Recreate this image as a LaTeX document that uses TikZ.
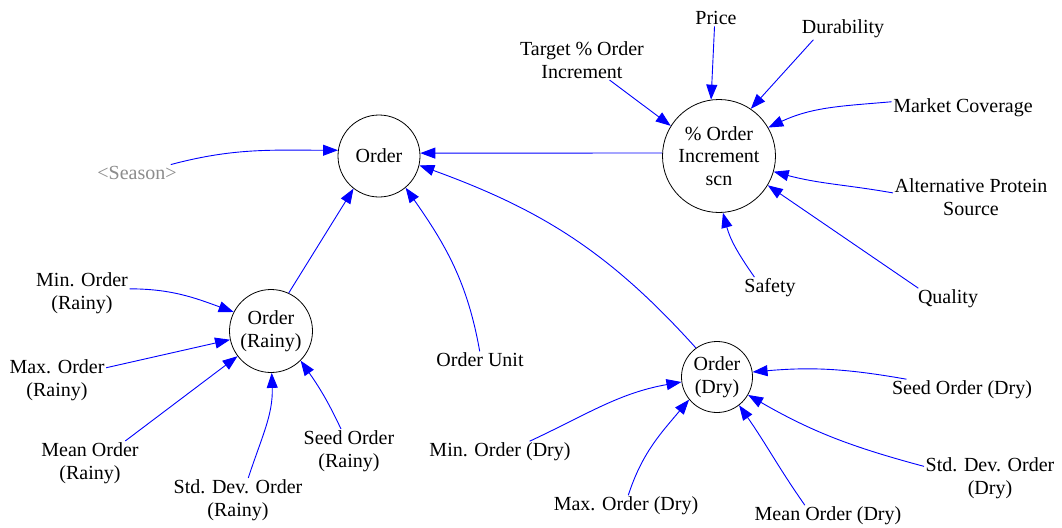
\documentclass[tikz,border=0pt]{standalone}
\usepackage{fontspec}
\setmainfont{Liberation Serif}
\usetikzlibrary{arrows.meta}
\definecolor{linkblue}{RGB}{0,0,255}
\definecolor{shadowvar}{RGB}{140,140,140}

\begin{document}
\begin{tikzpicture}[x=1pt,y=-1pt,
  txt/.style={font=\fontsize{20}{22.5}\selectfont, align=center, inner sep=1.5pt},
  var/.style={txt, circle, draw=black, line width=0.8pt, inner sep=0pt},
  link/.style={draw=linkblue, line width=0.9pt, -{Triangle[length=15pt,width=11pt]}}]
\useasboundingbox (0,0) rectangle (1062,527);

% auxiliary variables (circles)
\node[var, minimum size=82pt]  (order) at (379,156) {Order};
\node[var, minimum size=113pt] (ois)   at (719,156) {\% Order\\Increment\\scn};
\node[var, minimum size=83pt]  (rainy) at (271,331) {Order\\(Rainy)};
\node[var, minimum size=71pt]  (dry)   at (717,377) {Order\\(Dry)};

% constants and inputs
\node[txt, text=shadowvar] (season) at (137,173) {<Season>};
\node[txt] (target)  at (582,60)  {Target \% Order\\Increment};
\node[txt] (price)   at (716,18)  {Price};
\node[txt] (dur)     at (843,29)  {Durability};
\node[txt] (market)  at (963,108) {Market Coverage};
\node[txt] (alt)     at (971,197) {Alternative Protein\\Source};
\node[txt] (safety)  at (770,288) {Safety};
\node[txt] (quality) at (948,299) {Quality};
\node[txt] (minr)    at (82,293)  {Min. Order\\(Rainy)};
\node[txt] (maxr)    at (57,380)  {Max. Order\\(Rainy)};
\node[txt] (meanr)   at (90,463)  {Mean Order\\(Rainy)};
\node[txt] (sdr)     at (238,500) {Std. Dev. Order\\(Rainy)};
\node[txt] (seedr)   at (349,451) {Seed Order\\(Rainy)};
\node[txt] (unit)    at (480,360) {Order Unit};
\node[txt] (mind)    at (500,452) {Min. Order (Dry)};
\node[txt] (maxd)    at (626,506) {Max. Order (Dry)};
\node[txt] (meand)   at (828,516) {Mean Order (Dry)};
\node[txt] (sdd)     at (990,478) {Std. Dev. Order\\(Dry)};
\node[txt] (seedd)   at (962,390) {Seed Order (Dry)};

% links into Order
\draw[link] (season.14) to[out=15,in=180] (order.172);
\draw[link] (ois.177) -- (order.4);
\draw[link] (rainy.65) -- (order.232);
\draw[link] (unit.92) to[out=100,in=-55] (order.-50);
\draw[link] (dry.126) to[out=132,in=-20] (order.-13);

% links into % Order Increment scn
\draw[link] (target.-36) -- (ois.148);
\draw[link] (price.-100) -- (ois.98);
\draw[link] (dur.200) -- (ois.56);
\draw[link] (market.175) to[out=185,in=25] (ois.30);
\draw[link] (alt.177) to[out=170,in=-15] (ois.-16);
\draw[link] (quality.160) -- (ois.-31);
\draw[link] (safety.145) to[out=125,in=-75] (ois.-86);

% links into Order (Rainy)
\draw[link] (minr.5) to[out=0,in=160] (rainy.153);
\draw[link] (maxr.14) -- (rainy.192);
\draw[link] (meanr.32) -- (rainy.217);
\draw[link] (sdr.65) to[out=72,in=-88] (rainy.-89);
\draw[link] (seedr.110) to[out=115,in=-55] (rainy.-45);

% links into Order (Dry)
\draw[link] (mind.20) to[out=25,in=190] (dry.188);
\draw[link] (maxd.78) to[out=72,in=-130] (dry.-141);
\draw[link] (meand.155) to[out=125,in=-55] (dry.-52);
\draw[link] (sdd.170) to[out=165,in=-30] (dry.-30);
\draw[link] (seedd.169) to[out=170,in=5] (dry.8);
\end{tikzpicture}
\end{document}
